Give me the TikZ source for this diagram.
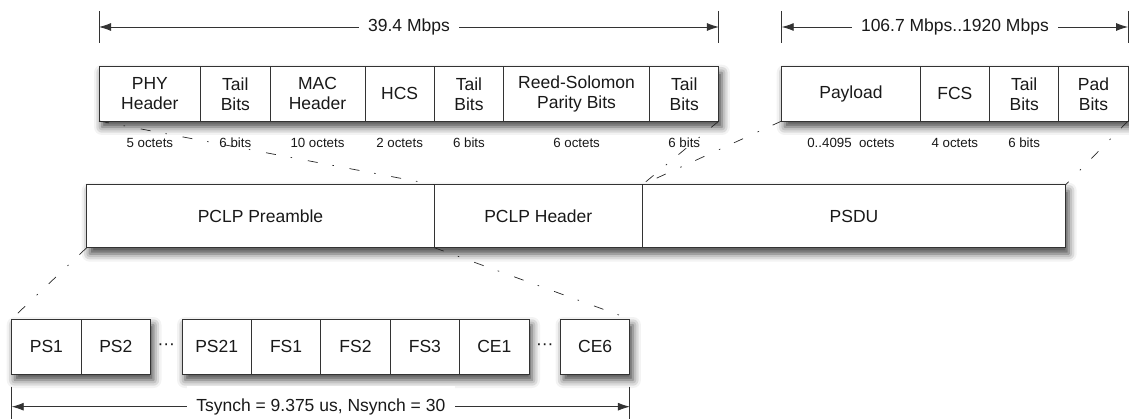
\documentclass[tikz,border=0pt]{standalone}
\usepackage{fontspec}
\setmainfont{Liberation Sans}
\usetikzlibrary{arrows.meta,positioning,fit,calc,shadows.blur,backgrounds}
\tikzset{
  base/.style={align=center, font=\fontsize{17.5}{20}\selectfont, text=black!90},
  cell/.style={base, rectangle, draw=black!80, fill=white, line width=0.9pt, inner sep=0pt, outer sep=0pt, minimum width=69.3pt, minimum height=54.3pt},
  slot/.style={cell, minimum width=69.4pt, minimum height=55pt},
  wide/.style={cell, minimum height=63pt},
  dots/.style={base, minimum width=31.5pt, inner sep=0pt, outer sep=0pt},
  size_text/.style={font=\fontsize{13.3}{15}\selectfont, text=black!90, inner sep=0pt, text height=10pt, text depth=3pt},
  group/.style={fit=#1, inner sep=0pt, fill=white, blur shadow={shadow xshift=3pt, shadow yshift=-6pt, shadow blur radius=8pt, shadow opacity=75}},
  dim/.style={{Latex[length=12pt,width=8pt]}-{Latex[length=12pt,width=8pt]}, line width=0.9pt, draw=black!80},
  tick/.style={line width=0.9pt, draw=black!80},
  label_text/.style={base, fill=white, inner xsep=9.5pt, inner ysep=2pt},
  zoomline/.style={draw=black!85, line width=0.7pt, dash pattern=on 10pt off 15pt on 1.5pt off 16pt}
}
\newcommand{\gapdots}{\textperiodcentered\textperiodcentered\textperiodcentered}

\begin{document}
\begin{tikzpicture}[x=1pt, y=1pt]
  \useasboundingbox (0,0) rectangle (1129,-419);

  % Top Row: header fields
  \node[cell, minimum width=101.7pt, anchor=north west] (phy) at (99,-66.7) {PHY\\Header};
  \node[cell, right=0pt of phy] (tail1) {Tail\\Bits};
  \node[cell, minimum width=95pt, right=0pt of tail1] (mac) {MAC\\Header};
  \node[cell, right=0pt of mac] (hcs) {HCS};
  \node[cell, right=0pt of hcs] (tail2) {Tail\\Bits};
  \node[cell, minimum width=146pt, right=0pt of tail2] (rs) {Reed-Solomon\\Parity Bits};
  \node[cell, right=0pt of rs] (tail3) {Tail\\Bits};

  % Top Row: payload fields
  \node[cell, minimum width=138.5pt, anchor=north west] (payload) at (781.7,-66.7) {Payload};
  \node[cell, right=0pt of payload] (fcs) {FCS};
  \node[cell, right=0pt of fcs] (tail4) {Tail\\Bits};
  \node[cell, right=0pt of tail4] (pad) {Pad\\Bits};

  % Field sizes
  \node[size_text, below=16.7pt of phy] (phy_sz) {5 octets};
  \node[size_text, below=16.7pt of tail1] (tail1_sz) {6 bits};
  \node[size_text, below=16.7pt of mac] (mac_sz) {10 octets};
  \node[size_text, below=16.7pt of hcs] (hcs_sz) {2 octets};
  \node[size_text, below=16.7pt of tail2] (tail2_sz) {6 bits};
  \node[size_text, below=16.7pt of rs] (rs_sz) {6 octets};
  \node[size_text, below=16.7pt of tail3] (tail3_sz) {6 bits};
  \node[size_text, below=16.7pt of payload] (payload_sz) {0..4095\ \ octets};
  \node[size_text, below=16.7pt of fcs] (fcs_sz) {4 octets};
  \node[size_text, below=16.7pt of tail4] (tail4_sz) {6 bits};

  % Middle Row: PCLP frame
  \node[wide, minimum width=347.6pt, anchor=north west] (preamble) at (86.7,-184.7) {PCLP Preamble};
  \node[wide, minimum width=208pt, right=0pt of preamble] (pclphdr) {PCLP Header};
  \node[wide, minimum width=423.4pt, right=0pt of pclphdr] (psdu) {PSDU};

  % Bottom Row: preamble symbols
  \node[slot, anchor=north west] (ps1) at (11.7,-319) {PS1};
  \node[slot, right=0pt of ps1] (ps2) {PS2};
  \node[dots, right=0pt of ps2] (gap1) {\gapdots};
  \node[slot, right=0pt of gap1] (ps21) {PS21};
  \node[slot, right=0pt of ps21] (fs1) {FS1};
  \node[slot, right=0pt of fs1] (fs2) {FS2};
  \node[slot, right=0pt of fs2] (fs3) {FS3};
  \node[slot, right=0pt of fs3] (ce1) {CE1};
  \node[dots, right=0pt of ce1] (gap2) {\gapdots};
  \node[slot, right=0pt of gap2] (ce6) {CE6};

  % Shadows behind each group
  \begin{scope}[on background layer]
    \node[group={(phy)(tail3)}] (grp_hdr) {};
    \node[group={(payload)(pad)}] (grp_pay) {};
    \node[group={(preamble)(psdu)}] (grp_pclp) {};
    \node[group={(ps1)(ps2)}] (grp_ps) {};
    \node[group={(ps21)(ce1)}] (grp_fs) {};
    \node[group={(ce6)}] (grp_ce) {};
  \end{scope}

  % Rates
  \coordinate (toprow) at (0,-27);
  \coordinate (rate1_l) at (phy.west |- toprow);
  \coordinate (rate1_r) at (tail3.east |- toprow);
  \coordinate (rate2_l) at (payload.west |- toprow);
  \coordinate (rate2_r) at (pad.east |- toprow);
  \draw[tick] ([yshift=16pt]rate1_l) -- ([yshift=-16pt]rate1_l);
  \draw[tick] ([yshift=16pt]rate1_r) -- ([yshift=-16pt]rate1_r);
  \draw[tick] ([yshift=16pt]rate2_l) -- ([yshift=-16pt]rate2_l);
  \draw[tick] ([yshift=16pt]rate2_r) -- ([yshift=-16pt]rate2_r);
  \draw[dim] (rate1_l) -- node[label_text] (rate1) {39.4 Mbps} (rate1_r);
  \draw[dim] (rate2_l) -- node[label_text] (rate2) {106.7 Mbps..1920 Mbps} (rate2_r);

  % Synch time
  \coordinate (botrow) at (0,-406.7);
  \coordinate (synch_l) at (ps1.west |- botrow);
  \coordinate (synch_r) at (ce6.east |- botrow);
  \draw[tick] ([yshift=20pt]synch_l) -- ([yshift=-20pt]synch_l);
  \draw[tick] ([yshift=20pt]synch_r) -- ([yshift=-20pt]synch_r);
  \draw[dim] (synch_l) -- node[label_text, minimum height=42pt] (synch) {Tsynch = 9.375 us, Nsynch = 30} (synch_r);

  % Zoom lines
  \draw[zoomline] (phy.south west) -- (pclphdr.north west);
  \draw[zoomline] (tail3.south east) -- (pclphdr.north east);
  \draw[zoomline] (payload.south west) -- (psdu.north west);
  \draw[zoomline] (pad.south east) -- (psdu.north east);
  \draw[zoomline] (preamble.south west) -- (ps1.north west);
  \draw[zoomline] (preamble.south east) -- (ce6.north east);

\end{tikzpicture}
\end{document}
